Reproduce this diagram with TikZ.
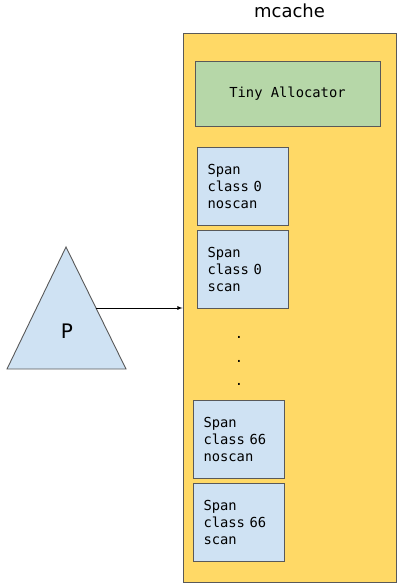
\documentclass[tikz,border=0pt]{standalone}
\usepackage{fontspec}
\setmainfont{DejaVu Sans}
\setmonofont{DejaVu Sans Mono}[WordSpace={1,0,0}]
\usepackage{tikz}
\usetikzlibrary{arrows, positioning}
\definecolor{cacheyellow}{HTML}{FFD966}
\definecolor{tinygreen}{HTML}{B6D7A8}
\definecolor{spanblue}{HTML}{CFE2F3}
\definecolor{edgegray}{HTML}{595959}
\newcommand{\monotext}{\ttfamily\fontsize{13.8}{17}\selectfont\spaceskip=0.602em\relax}
\tikzstyle{spanbox}=[draw=edgegray, line width=0.9pt, fill=spanblue, minimum height=78, text width=71, inner xsep=10, inner ysep=0, align=left, font=\monotext]
\tikzstyle{arr} = [line width=0.8pt,->,>=latex]
\tikzstyle{dot}=[inner sep=0, font=\monotext]

\begin{document}
\begin{tikzpicture}[x=1pt, y=-1pt]
    \useasboundingbox (0,0) rectangle (400,588);
    % mcache
    \node [draw=edgegray, line width=0.9pt, fill=cacheyellow, minimum width=213, minimum height=549, inner sep=0] (mcache) at (289.5,308) {};
    \node [anchor=base, font=\fontsize{18}{20}\selectfont] (title) at (289.5,18) {mcache};
    \node [draw=edgegray, line width=0.9pt, fill=tinygreen, minimum width=185, minimum height=65, inner sep=0, font=\monotext] (tiny) at (287.5,93.5) {Tiny Allocator};

    % span classes
    \node [spanbox] (s0n) at (243,186) {Span\\class 0\\noscan};
    \node [spanbox] (s0s) at (243,269) {Span\\class 0\\scan};
    \node [dot] (d1) at (239,337) {.};
    \node [dot] (d2) at (239,361) {.};
    \node [dot] (d3) at (239,384) {.};
    \node [spanbox] (s66n) at (239,439.5) {Span\\class 66\\noscan};
    \node [spanbox] (s66s) at (239,522) {Span\\class 66\\scan};

    % P
    \draw [draw=edgegray, line width=0.9pt, fill=spanblue] (66,247) coordinate (Ptop) -- (126,369) -- (7,369) -- cycle;
    \node [font=\fontsize{20}{22}\selectfont] (P) at (67,331) {P};
    \coordinate (Pout) at (96,308);
    \draw [arr] (Pout) -- (Pout -| mcache.west);
\end{tikzpicture}
\end{document}
